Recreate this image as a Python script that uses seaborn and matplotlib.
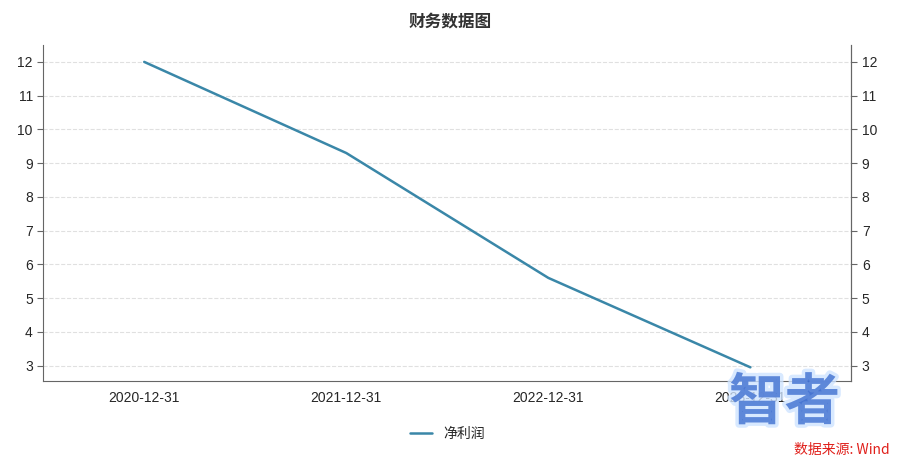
import matplotlib.pyplot as plt
import matplotlib.patheffects as pe
import pandas as pd
import seaborn as sns

dates = ["2020-12-31", "2021-12-31", "2022-12-31", "2023-12-31"]
net_profit = [12.0, 9.3, 5.6, 2.95]
yticks = [3, 4, 5, 6, 7, 8, 9, 10, 11, 12]

FONTS = ["Liberation Sans", "DejaVu Sans"]
CJK = "Noto Sans CJK SC"
sns.set_style("white", {"font.sans-serif": FONTS})
plt.rcParams["font.sans-serif"] = FONTS
plt.rcParams["axes.unicode_minus"] = False

df = pd.DataFrame({"date": dates, "val": net_profit})
df["x"] = range(len(dates))

fig = plt.figure(figsize=(9, 4.69), dpi=100)
ax = fig.add_axes([0.048, 0.188, 0.898, 0.716])
sns.lineplot(data=df, x="x", y="val", ax=ax, color="#3a87a8", linewidth=1.8, label="净利润")
ax.set_xlim(-0.5, len(dates) - 0.5)
ax.set_ylim(2.55, 12.5)
ax.set_xticks(df["x"])
ax.set_xticklabels(dates, fontsize=10)
ax.set_yticks(yticks)
ax.tick_params(labelsize=10, length=4, color="#666666")
ax.set_xlabel("")
ax.set_ylabel("")
ax.yaxis.grid(True, linestyle="--", color="#e0e0e0", linewidth=0.8)
for s in ["left", "right", "bottom"]:
    ax.spines[s].set_color("#666666")
ax.spines["top"].set_visible(False)

ax2 = ax.twinx()
ax2.set_ylim(ax.get_ylim())
ax2.set_yticks(yticks)
ax2.tick_params(labelsize=10, length=4, color="#666666")
ax2.spines["right"].set_color("#666666")
ax2.spines["top"].set_visible(False)
ax2.spines["left"].set_visible(False)
ax2.spines["bottom"].set_visible(False)

ax.legend(loc="upper center", bbox_to_anchor=(0.5, -0.1), frameon=False,
          prop={"family": CJK, "size": 10}, handlelength=1.6)
fig.text(0.5, 0.955, "财务数据图", ha="center", va="center", fontsize=12, fontweight="bold",
         color="#333333", family=CJK)
fig.text(0.81, 0.14, "智者", ha="left", va="center", fontsize=40, color="#3f6fd0",
         fontweight="bold", family=CJK, alpha=0.75,
         path_effects=[pe.withStroke(linewidth=5, foreground="#cfe4ff", alpha=0.8)])
fig.text(0.988, 0.04, "数据来源: Wind", ha="right", va="center", fontsize=10,
         color="#e0201b", family=CJK)

fig.savefig("out.png", dpi=100)
